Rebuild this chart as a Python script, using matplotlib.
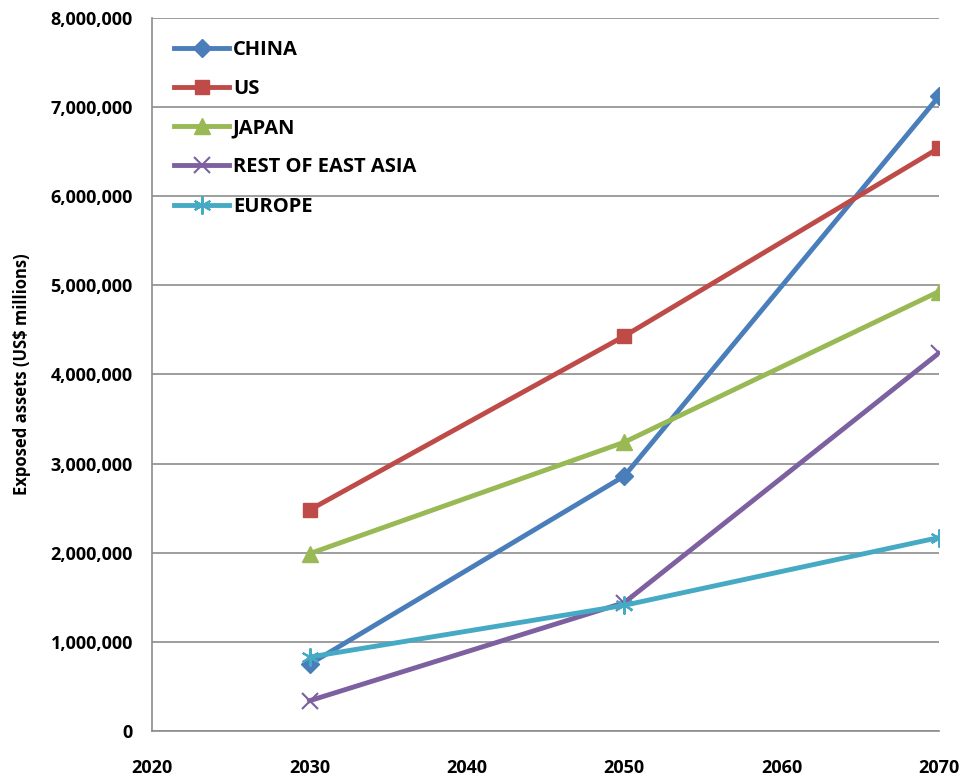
import matplotlib.pyplot as plt
from matplotlib.ticker import FuncFormatter

plt.rcParams['font.family'] = ['Open Sans', 'DejaVu Sans']

years = [2030, 2050, 2070]
china = [750000, 2860000, 7120000]
us = [2480000, 4430000, 6540000]
japan = [1990000, 3240000, 4930000]
rest_east_asia = [340000, 1440000, 4240000]
europe = [830000, 1410000, 2170000]

fig = plt.figure(figsize=(9.64, 7.78), dpi=100)
ax = fig.add_axes([0.158, 0.0604, 0.816, 0.9166])

ax.plot(years, china, color="#4a7ebb", lw=3.5, marker="D", ms=9, label="CHINA")
ax.plot(years, us, color="#be4b48", lw=3.5, marker="s", ms=10, label="US")
ax.plot(years, japan, color="#98b954", lw=3.5, marker="^", ms=11, label="JAPAN")
ax.plot(years, rest_east_asia, color="#7d60a0", lw=3.5, marker="x", ms=11, mew=1.5,
        label="REST OF EAST ASIA")
ax.plot(years, europe, color="#46aac5", lw=3.5, marker=(6, 2, 0), ms=13, mew=1.5,
        label="EUROPE")

ax.set_xlim(2020, 2070)
ax.set_ylim(0, 8000000)
ax.set_xticks(range(2020, 2071, 10))
ax.set_yticks(range(0, 8000001, 1000000))
ax.yaxis.set_major_formatter(FuncFormatter(lambda v, p: f"{int(v):,}"))
ax.grid(axis="y", color="#8c8c8c", lw=1.2)
ax.set_axisbelow(True)
for s in ["top", "right"]:
    ax.spines[s].set_visible(False)
ax.spines["left"].set_color("#8c8c8c")
ax.spines["bottom"].set_color("#8c8c8c")
ax.spines["left"].set_linewidth(1.2)
ax.spines["bottom"].set_linewidth(1.2)
ax.tick_params(length=0, labelsize=13)
ax.tick_params(axis="x", pad=20)
ax.tick_params(axis="y", pad=14)
for t in ax.get_xticklabels() + ax.get_yticklabels():
    t.set_fontweight("bold")
ax.set_ylabel("Exposed assets (US$ millions)", fontsize=12, fontweight="bold", labelpad=14)

leg = ax.legend(loc="upper left", frameon=False, prop={"weight": "bold", "size": 14.5},
                handlelength=2.7, labelspacing=0.95, borderaxespad=0.5, handletextpad=0.2,
                borderpad=0.6)

fig.savefig("out.png", dpi=100)
